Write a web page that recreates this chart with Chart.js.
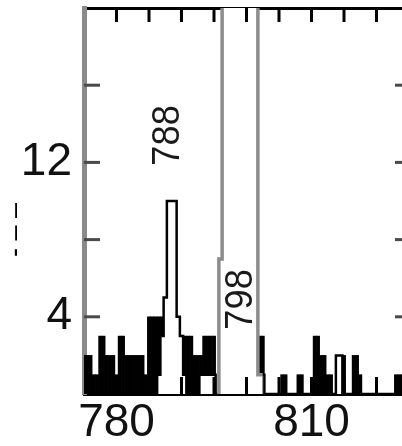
<!DOCTYPE html>
<html>
<head>
<meta charset="utf-8">
<script src="https://cdn.jsdelivr.net/npm/chart.js@4.4.1/dist/chart.umd.min.js"></script>
<style>
  html, body { margin: 0; padding: 0; background: #fff; overflow: hidden; }
  #wrap { width: 416px; height: 446px; }
</style>
</head>
<body>
<div id="wrap"><canvas id="spec" width="416" height="446"></canvas></div>
<script>
// Spectrum binned in 0.5-wide m/z bins, centres running from 775 to 825.
const BIN_START = 775;
const BIN_WIDTH = 0.5;

// Counts per bin (solid black histogram).
const observedCounts = [
  2, 2, 2, 1, 1, 3, 3, 2, 2, 2,   // 775.0 - 779.5
  1, 3, 3, 2, 2, 2, 2, 2, 2, 1,   // 780.0 - 784.5
  4, 4, 4, 4, 4, 0, 0, 0, 0, 0,   // 785.0 - 789.5
  0, 3, 3, 3, 2, 2, 2, 3, 3, 3,   // 790.0 - 794.5
  3, 0, 0, 0, 0, 0, 0, 0, 0, 0,   // 795.0 - 799.5
  0, 0, 0, 0, 3, 3, 0, 0, 0, 0,   // 800.0 - 804.5
  0, 1, 1, 0, 0, 0, 1, 1, 0, 0,   // 805.0 - 809.5
  0, 3, 3, 2, 2, 1, 1, 0, 0, 0,   // 810.0 - 814.5
  2, 0, 0, 2, 2, 1, 0, 0, 0, 0,   // 815.0 - 819.5
  0, 0, 0, 0, 0, 0, 1, 1, 1, 0,   // 820.0 - 824.5
  0                               // 825.0
];

// Reference profile drawn as a white, outlined step trace over the counts.
const referenceProfile = [
  0, 0, 0, 0, 0, 0, 0, 0, 0, 0,
  0, 0, 0, 0, 0, 0, 0, 0, 0, 0,
  0, 0, 0, 1, 3, 5, 10, 10, 10, 4,
  3, 1, 0, 0, 0, 0, 1, 1, 1, 1,
  1, 0, 7, 60, 60, 60, 60, 60, 60, 60,
  60, 60, 60, 60, 1, 1, 0, 0, 0, 0,
  0, 0, 0, 0, 0, 0, 0, 0, 0, 0,
  0, 0, 0, 0, 0, 0, 0, 0, 2, 2,
  0, 0, 0, 0, 0, 0, 0, 0, 0, 0,
  0, 0, 0, 0, 0, 0, 0, 0, 0, 0,
  0
];

// Axis labelling.
const xLabelledTicks = [780, 810];
const yLabelledTicks = [4, 12];
const yAxisTitle = '- \u2013 \u2013';

// Peak annotations: text, m/z and level (data units) of the tag centre.
const peakTagText = ['788', '798'];
const peakTagMz = [788, 799.2];
const peakTagLevel = [13.4, 4.9];

// m/z window whose off-scale trace is outlined in grey.
const OFFSCALE_WINDOW = [795.6, 802.1];

const FONT = '"Liberation Sans", Arial, Helvetica, sans-serif';

const binCentres = observedCounts.map((_, i) => BIN_START + i * BIN_WIDTH);
const asPoints = arr => arr.map((v, i) => ({ x: binCentres[i], y: v }));

const inWindow = c => {
  const a = c.p0.parsed.x, b = c.p1.parsed.x;
  return (a >= OFFSCALE_WINDOW[0] && a <= OFFSCALE_WINDOW[1]) ||
         (b >= OFFSCALE_WINDOW[0] && b <= OFFSCALE_WINDOW[1]);
};

// keep every axis box at a fixed size with no extra label overhang padding
const fixBox = (w, h) => s => {
  if (w !== null) s.width = w;
  if (h !== null) s.height = h;
  s.paddingTop = 0; s.paddingBottom = 0; s.paddingLeft = 0; s.paddingRight = 0;
};

const framePlugin = {
  id: 'frame',
  afterDatasetsDraw(chart) {
    const { ctx, chartArea: a, scales: { x, y } } = chart;
    ctx.save();
    // inward tick marks
    x.ticks.forEach(t => {
      if (t.value <= x.min || t.value >= x.max) return;
      const px = x.getPixelForValue(t.value);
      ctx.fillStyle = '#000';
      ctx.fillRect(px - 1.5, a.top, 3, 14);
      ctx.fillRect(px - 1.5, a.bottom - 17, 3, 17);
    });
    y.ticks.forEach(t => {
      if (t.value <= y.min || t.value >= y.max) return;
      const py = y.getPixelForValue(t.value);
      ctx.fillStyle = '#4a4a4a';
      ctx.fillRect(a.left, py - 1.5, 16, 3);
      ctx.fillRect(a.right - 14, py - 1.5, 14, 3);
    });
    // rotated peak tags
    peakTagText.forEach((txt, i) => {
      ctx.save();
      ctx.translate(x.getPixelForValue(peakTagMz[i]), y.getPixelForValue(peakTagLevel[i]));
      ctx.rotate(-Math.PI / 2);
      ctx.scale(0.93, 1);
      ctx.font = '39px ' + FONT;
      ctx.textAlign = 'center';
      ctx.textBaseline = 'middle';
      ctx.fillStyle = '#1a1a1a';
      ctx.fillText(txt, 0, 0);
      ctx.restore();
    });
    // vertical axis title
    ctx.save();
    ctx.translate(15.5, 230);
    ctx.rotate(-Math.PI / 2);
    ctx.font = '27px ' + FONT;
    ctx.textAlign = 'center';
    ctx.textBaseline = 'middle';
    ctx.fillStyle = '#000';
    ctx.fillText(yAxisTitle, 0, 0);
    ctx.restore();
    ctx.restore();
  }
};

new Chart(document.getElementById('spec'), {
  type: 'bar',
  data: {
    datasets: [
      {
        type: 'line',
        label: 'reference',
        data: asPoints(referenceProfile),
        stepped: 'middle',
        fill: 'origin',
        backgroundColor: '#ffffff',
        borderColor: '#000',
        borderWidth: 2.5,
        pointRadius: 0,
        order: 1,
        segment: {
          borderColor: c => inWindow(c) ? '#8c8c8c' : undefined,
          borderWidth: c => inWindow(c) ? 3.5 : undefined
        }
      },
      {
        type: 'bar',
        label: 'counts',
        data: asPoints(observedCounts),
        backgroundColor: '#000',
        borderWidth: 0,
        barPercentage: 1,
        categoryPercentage: 1,
        order: 2
      }
    ]
  },
  options: {
    responsive: false,
    devicePixelRatio: 1,
    animation: false,
    events: [],
    layout: { padding: 0 },
    plugins: { legend: { display: false }, tooltip: { enabled: false } },
    scales: {
      x: {
        type: 'linear', position: 'bottom', min: 775, max: 825, offset: false, z: 1,
        grid: { display: false, drawTicks: false },
        border: { display: true, color: '#000', width: 3 },
        ticks: {
          stepSize: 5, autoSkip: false, maxRotation: 0, padding: 2, color: '#111',
          font: { family: FONT, size: 46 },
          callback: v => xLabelledTicks.includes(v) ? String(v) : ''
        },
        afterFit: fixBox(null, 52)
      },
      xTop: {
        type: 'linear', position: 'top', min: 775, max: 825, offset: false, z: 1,
        grid: { display: false, drawTicks: false },
        border: { display: true, color: '#000', width: 3 },
        ticks: { display: false, stepSize: 5 },
        afterFit: fixBox(null, 8)
      },
      y: {
        type: 'linear', position: 'left', min: 0, max: 20,
        grid: { display: false, drawTicks: false },
        border: { display: true, color: '#8a8a8a', width: 5 },
        ticks: {
          stepSize: 4, padding: 12, color: '#111',
          font: { family: FONT, size: 46 },
          callback: v => yLabelledTicks.includes(v) ? String(v) : ''
        },
        afterFit: fixBox(84, null)
      },
      yRight: {
        type: 'linear', position: 'right', min: 0, max: 20, z: 1,
        grid: { display: false, drawTicks: false },
        border: { display: true, color: '#000', width: 3 },
        ticks: { display: false, stepSize: 4 },
        afterFit: fixBox(7, null)
      }
    }
  },
  plugins: [framePlugin]
});
</script>
</body>
</html>
